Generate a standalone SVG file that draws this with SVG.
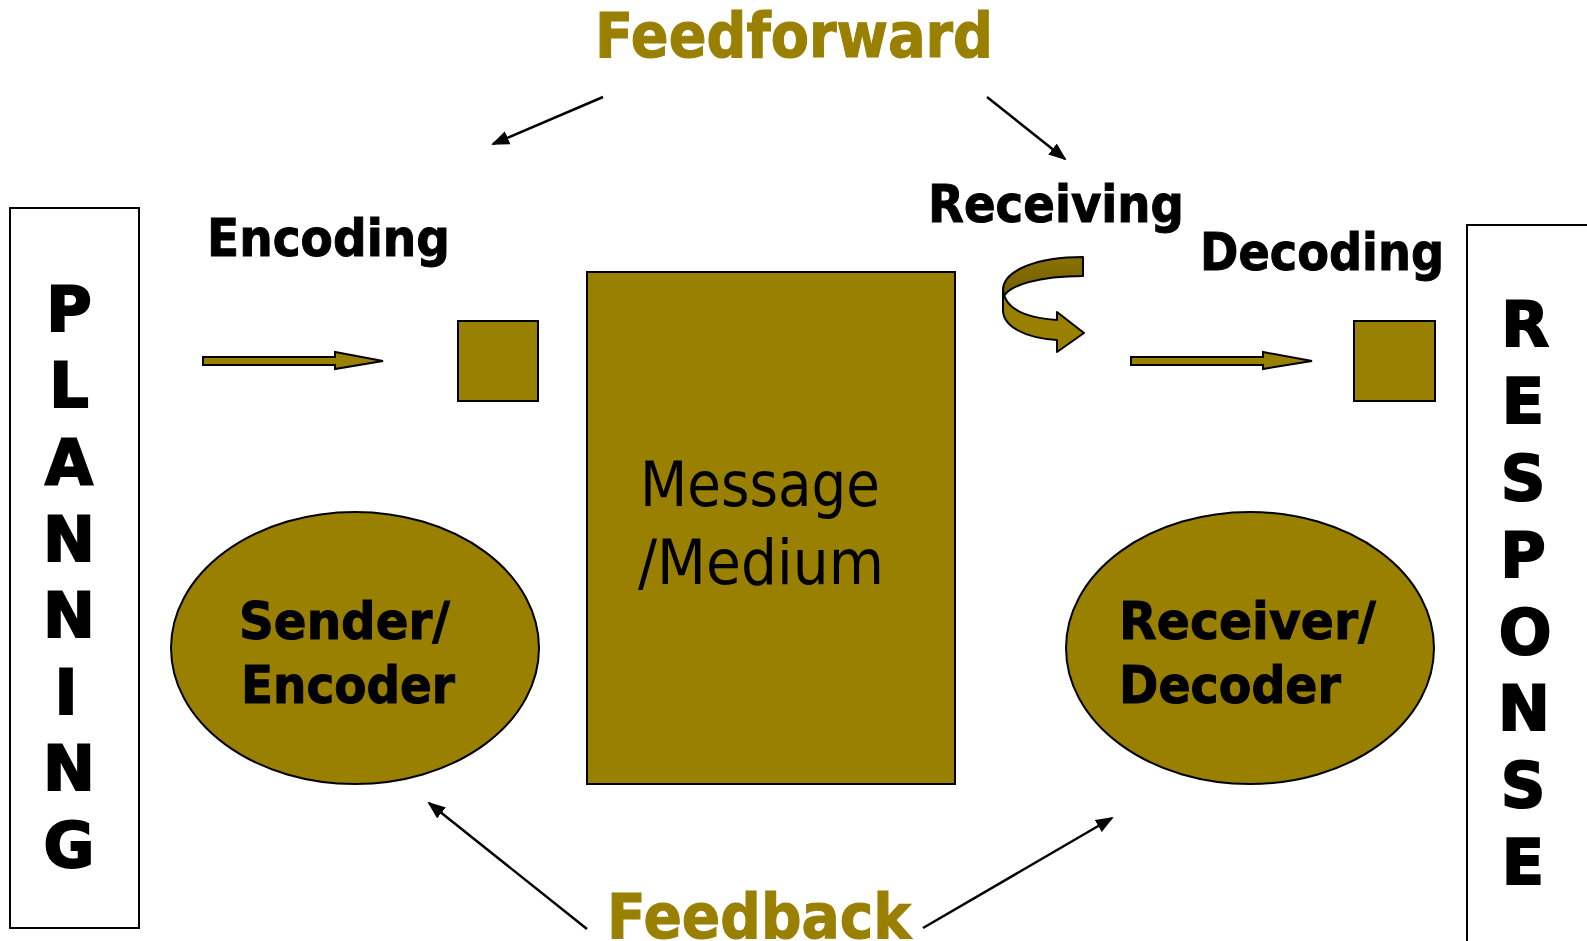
<svg xmlns="http://www.w3.org/2000/svg" width="1587" height="941" viewBox="0 0 1587 941">
  <defs>
    <marker id="arrowHead" viewBox="0 0 18 14" refX="16" refY="7" markerWidth="18" markerHeight="14" markerUnits="userSpaceOnUse" orient="auto">
      <path d="M0,0 L18,7 L0,14 Z" fill="#000"/>
    </marker>
    <linearGradient id="backBand" x1="0" y1="0" x2="0" y2="1">
      <stop offset="0" stop-color="#8a7200"/>
      <stop offset="1" stop-color="#6e5c00"/>
    </linearGradient>
  </defs>
  <style>
    .gold { fill: #998000; stroke: #000; stroke-width: 2; }
    .frame { fill: #fff; stroke: #000; stroke-width: 2; }
    .bold { font-family: "DejaVu Sans", Verdana, sans-serif; font-weight: bold; fill: #000; stroke: #000; stroke-width: 1; }
    .title { font-family: "DejaVu Sans", Verdana, sans-serif; font-weight: bold; fill: #998000; stroke: #998000; stroke-width: 1.2; font-size: 63px; }
    .label { font-size: 51px; }
    .vert { font-size: 62px; text-anchor: middle; stroke-width: 2; }
    .msg { font-family: "DejaVu Sans", Tahoma, sans-serif; font-size: 63px; fill: #000; }
    .thin { stroke: #000; stroke-width: 2.5; fill: none; marker-end: url(#arrowHead); }
  </style>
  <rect width="1587" height="941" fill="#fff"/>

  <!-- side panels: one letter per line -->
  <g id="planning">
    <rect class="frame" x="10" y="208" width="129" height="720"/>
    <text class="bold vert" x="69" y="331">P</text>
    <text class="bold vert" x="69" y="407">L</text>
    <text class="bold vert" x="69" y="484">A</text>
    <text class="bold vert" x="69" y="561">N</text>
    <text class="bold vert" x="69" y="637">N</text>
    <text class="bold vert" x="66" y="714">I</text>
    <text class="bold vert" x="69" y="790">N</text>
    <text class="bold vert" x="69" y="867">G</text>
  </g>
  <g id="response">
    <rect class="frame" x="1467" y="225" width="200" height="800"/>
    <text class="bold vert" x="1525" y="346">R</text>
    <text class="bold vert" x="1523" y="423">E</text>
    <text class="bold vert" x="1523" y="500">S</text>
    <text class="bold vert" x="1523" y="577">P</text>
    <text class="bold vert" x="1525" y="654">O</text>
    <text class="bold vert" x="1524" y="730">N</text>
    <text class="bold vert" x="1523" y="807">S</text>
    <text class="bold vert" x="1523" y="884">E</text>
  </g>

  <!-- headings -->
  <g id="feedforward">
    <text class="title" x="595" y="57" textLength="398" lengthAdjust="spacingAndGlyphs">Feedforward</text>
  </g>
  <g id="feedback">
    <text class="title" x="607" y="938" textLength="304" lengthAdjust="spacingAndGlyphs">Feedback</text>
  </g>

  <!-- stage labels -->
  <g id="encoding">
    <text class="bold label" x="207" y="256" textLength="243" lengthAdjust="spacingAndGlyphs">Encoding</text>
  </g>
  <g id="receiving">
    <text class="bold label" x="928" y="222" textLength="256" lengthAdjust="spacingAndGlyphs">Receiving</text>
  </g>
  <g id="decoding">
    <text class="bold label" x="1200" y="270" textLength="244" lengthAdjust="spacingAndGlyphs">Decoding</text>
  </g>

  <!-- encoding / decoding squares -->
  <g id="encodeBox">
    <rect class="gold" x="458" y="321" width="80" height="80"/>
  </g>
  <g id="decodeBox">
    <rect class="gold" x="1354" y="321" width="81" height="80"/>
  </g>

  <!-- message / medium -->
  <g id="message">
    <rect class="gold" x="587" y="272" width="368" height="512"/>
    <text class="msg" x="640" y="506" textLength="240" lengthAdjust="spacingAndGlyphs">Message</text>
    <text class="msg" x="638" y="584" textLength="246" lengthAdjust="spacingAndGlyphs">/Medium</text>
  </g>

  <!-- sender and receiver -->
  <g id="sender">
    <ellipse class="gold" cx="355" cy="648" rx="184" ry="136"/>
    <text class="bold label" x="239" y="639" textLength="211" lengthAdjust="spacingAndGlyphs">Sender/</text>
    <text class="bold label" x="241" y="703" textLength="214" lengthAdjust="spacingAndGlyphs">Encoder</text>
  </g>
  <g id="receiver">
    <ellipse class="gold" cx="1250" cy="648" rx="184" ry="136"/>
    <text class="bold label" x="1119" y="639" textLength="257" lengthAdjust="spacingAndGlyphs">Receiver/</text>
    <text class="bold label" x="1119" y="703" textLength="222" lengthAdjust="spacingAndGlyphs">Decoder</text>
  </g>

  <!-- connectors -->
  <g id="connectors">
    <!-- block arrows into the squares -->
    <path class="gold" d="M203,357 L335,357 L335,352 L383,361 L335,369 L335,365 L203,365 Z"/>
    <path class="gold" d="M1131,357 L1263,357 L1263,352 L1312,361 L1263,369 L1263,365 L1131,365 Z"/>

    <!-- curved receiving arrow -->
    <path d="M1083,257 L1083,276 C1040,276 1008,285 1003,298 L1003,290 C1003,270 1038,257 1083,257 Z" fill="url(#backBand)" stroke="#000" stroke-width="2" stroke-linejoin="round"/>
    <path class="gold" stroke-linejoin="round" d="M1003,290 C1005,310 1028,318 1057,320 L1057,312 L1084,333 L1057,352 L1057,340 C1024,338 1003,326 1003,310 Z"/>

    <!-- feedforward arrows -->
    <line class="thin" x1="603" y1="97" x2="493" y2="144"/>
    <line class="thin" x1="987" y1="97" x2="1065" y2="159"/>

    <!-- feedback arrows -->
    <line class="thin" x1="587" y1="929" x2="429" y2="803"/>
    <line class="thin" x1="923" y1="928" x2="1112" y2="818"/>
  </g>
</svg>
